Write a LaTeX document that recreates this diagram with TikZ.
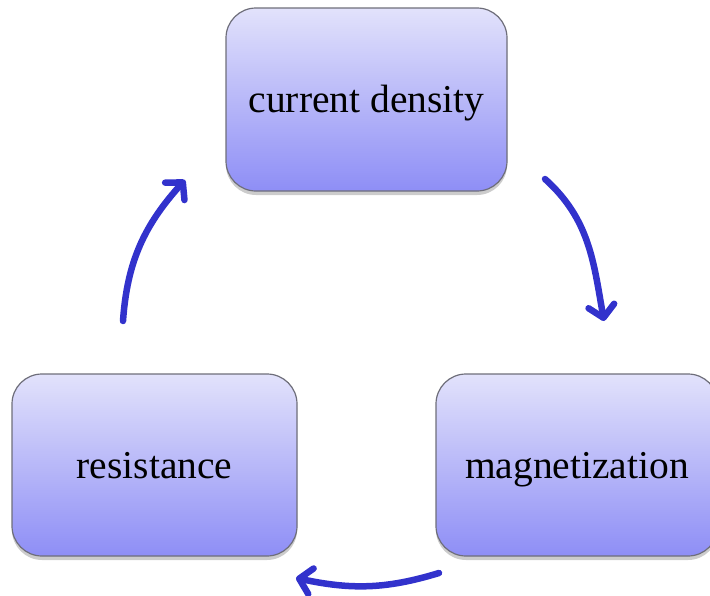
\documentclass[tikz,border=0pt]{standalone}
\usepackage{fontspec}
\setmainfont{Liberation Serif}
\usetikzlibrary{arrows.meta,shadows}
\definecolor{boxtop}{HTML}{E2E2FB}
\definecolor{boxbot}{HTML}{8E8EF6}
\definecolor{boxline}{HTML}{6E6E7A}
\definecolor{arrowblue}{HTML}{3232CC}
\tikzset{
  box/.style={rectangle, rounded corners=30pt, draw=boxline, line width=1.2pt,
    top color=boxtop, bottom color=boxbot, inner sep=0pt,
    text height=26pt, text depth=0pt,
    font=\fontsize{39.5pt}{44pt}\selectfont,
    drop shadow={shadow xshift=0pt, shadow yshift=-4pt, opacity=0.2, fill=black}},
  flow/.style={draw=arrowblue, line width=6.5pt, line cap=round,
    -{Straight Barb[length=12pt,width=26pt,line width=6.5pt,round]}}
}
\begin{document}
\begin{tikzpicture}[x=1pt,y=1pt]
\useasboundingbox (0,0) rectangle (710,-595);
\node[box, minimum width=281pt, minimum height=183pt] (cd) at (366.5,-99.5) {current density};
\node[box, minimum width=282pt, minimum height=182pt] (mg) at (577,-465) {magnetization};
\node[box, minimum width=285pt, minimum height=182pt] (rs) at (154.5,-465) {resistance};
\coordinate (a1s) at (545,-179);
\coordinate (a1e) at (604,-321);
\coordinate (a2s) at (439,-573);
\coordinate (a2e) at (296,-578);
\coordinate (a3s) at (123,-321);
\coordinate (a3e) at (185,-180);
\draw[flow] (a1s) to[out=-42, in=100] (a1e);
\draw[flow] (a2s) to[out=197, in=-12] (a2e);
\draw[flow] (a3s) to[out=86, in=228] (a3e);
\end{tikzpicture}
\end{document}
